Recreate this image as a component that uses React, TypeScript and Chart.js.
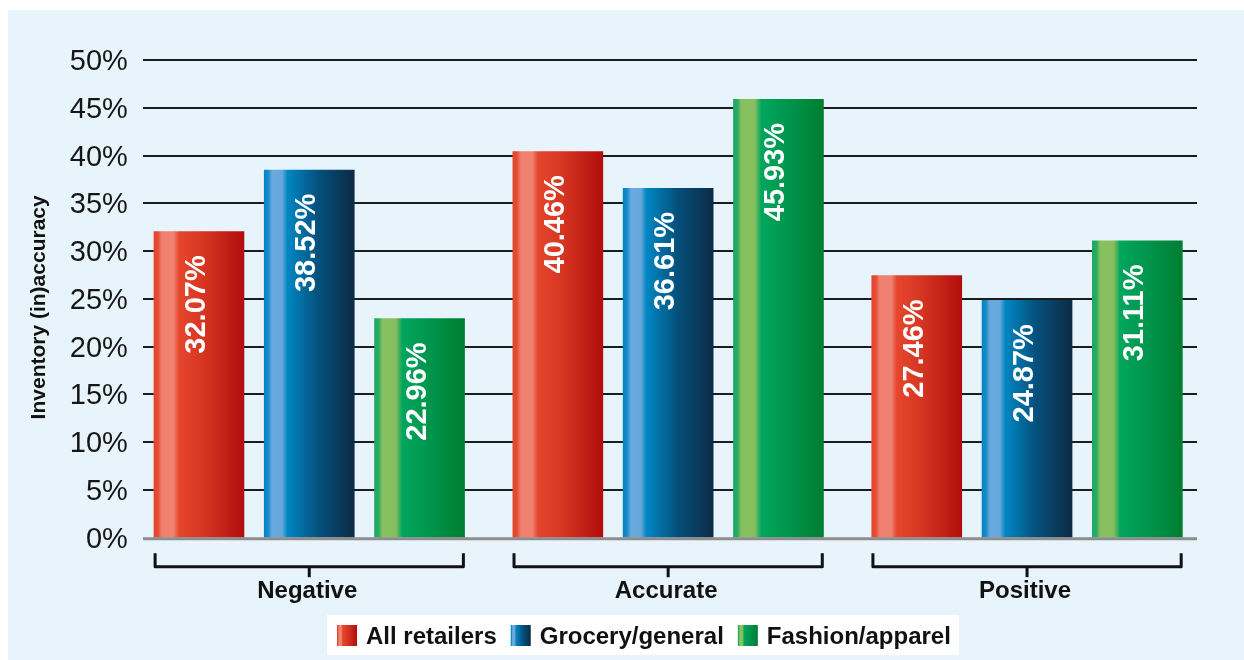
import React, { useEffect, useRef } from 'react';
import { Chart, registerables } from 'chart.js';

Chart.register(...registerables);

// ---- Data ----
const categories = ['Negative', 'Accurate', 'Positive'];
const seriesNames = ['All retailers', 'Grocery/general', 'Fashion/apparel'];
const allRetailers = [32.07, 40.46, 27.46];
const groceryGeneral = [38.52, 36.61, 24.87];
const fashionApparel = [22.96, 45.93, 31.11];
const yTicks = [0, 5, 10, 15, 20, 25, 30, 35, 40, 45, 50];
const yAxisTitle = 'Inventory (in)accuracy';

const seriesData = [allRetailers, groceryGeneral, fashionApparel];

// ---- Styles ----
const FONT = '"Liberation Sans", Arial, Helvetica, sans-serif';
const CAT_PCT = 0.922;
const BAR_PCT = 0.822;

type Stop = [number, string];
const gradientStops: Stop[][] = [
  [[0, '#e4452d'], [0.05, '#e64b34'], [0.09, '#f0806f'], [0.22, '#ef8272'], [0.28, '#e6462c'], [0.55, '#d63522'], [1, '#b20d0c']],
  [[0, '#0083c3'], [0.05, '#1a8ccb'], [0.09, '#6aaade'], [0.2, '#66a8dc'], [0.26, '#0087c3'], [0.6, '#05507c'], [1, '#0c2b45']],
  [[0, '#1ba766'], [0.05, '#2aac62'], [0.09, '#88c060'], [0.24, '#88bf5e'], [0.31, '#00a65e'], [0.6, '#00954c'], [1, '#007e32']],
];
const solidColors = ['#d63522', '#05507c', '#00954c'];

function makeGradient(ctx: CanvasRenderingContext2D, x0: number, x1: number, stops: Stop[]) {
  const g = ctx.createLinearGradient(x0, 0, x1, 0);
  stops.forEach(([o, c]) => g.addColorStop(o, c));
  return g;
}

function barFill(c: any, i: number) {
  const chart = c.chart;
  const xs = chart.scales && chart.scales.x;
  if (c.type !== 'data' || !xs || !chart.chartArea) return solidColors[i];
  const catW = (xs.right - xs.left) / categories.length;
  const slot = (catW * CAT_PCT) / seriesNames.length;
  const w = slot * BAR_PCT;
  const cx = xs.getPixelForValue(c.dataIndex) + (c.datasetIndex - 1) * slot;
  return makeGradient(chart.ctx, cx - w / 2, cx + w / 2, gradientStops[i]);
}

const decorPlugin = {
  id: 'decor',
  beforeDatasetsDraw(chart: any) {
    const { ctx, chartArea } = chart;
    const y = chart.scales.y;
    const gx0 = chartArea.left + 13.2;
    const gx1 = chartArea.right - 9.5;
    ctx.save();
    ctx.strokeStyle = '#1c1c1c';
    ctx.lineWidth = 2;
    yTicks.forEach((v) => {
      if (v === 0) return;
      const py = Math.round(y.getPixelForValue(v));
      ctx.beginPath();
      ctx.moveTo(gx0, py);
      ctx.lineTo(gx1, py);
      ctx.stroke();
    });
    ctx.restore();
  },
  afterDatasetsDraw(chart: any) {
    const { ctx, chartArea } = chart;
    const y = chart.scales.y;
    const x = chart.scales.x;
    const gx0 = chartArea.left + 13.2;
    const gx1 = chartArea.right - 9.5;
    const y0 = y.getPixelForValue(0);
    ctx.save();

    // zero axis line
    ctx.strokeStyle = '#8d8d8d';
    ctx.lineWidth = 3;
    ctx.beginPath();
    ctx.moveTo(gx0, y0 + 1);
    ctx.lineTo(gx1, y0 + 1);
    ctx.stroke();

    // value labels
    ctx.fillStyle = '#ffffff';
    ctx.font = `bold 29px ${FONT}`;
    ctx.textAlign = 'right';
    ctx.textBaseline = 'alphabetic';
    seriesData.forEach((arr, di) => {
      const meta = chart.getDatasetMeta(di);
      meta.data.forEach((el: any, idx: number) => {
        ctx.save();
        ctx.translate(el.x + 6, el.y + 24);
        ctx.rotate(-Math.PI / 2);
        ctx.fillText(arr[idx].toFixed(2) + '%', 0, 0);
        ctx.restore();
      });
    });

    // brackets + category labels
    const first = chart.getDatasetMeta(0);
    const last = chart.getDatasetMeta(seriesNames.length - 1);
    ctx.strokeStyle = '#111111';
    ctx.lineWidth = 3;
    ctx.lineJoin = 'round';
    ctx.fillStyle = '#111111';
    ctx.font = `bold 24px ${FONT}`;
    ctx.textAlign = 'center';
    categories.forEach((cat, i) => {
      const a: any = first.data[i];
      const b: any = last.data[i];
      const left = a.x - a.width / 2 + 1.5;
      const right = b.x + b.width / 2 - 1.5;
      const cx = x.getPixelForValue(i);
      const top = y0 + 15.5;
      const mid = y0 + 29;
      ctx.beginPath();
      ctx.moveTo(left, top);
      ctx.lineTo(left, mid);
      ctx.lineTo(right, mid);
      ctx.lineTo(right, top);
      ctx.stroke();
      ctx.beginPath();
      ctx.moveTo(cx, mid);
      ctx.lineTo(cx, y0 + 39.5);
      ctx.stroke();
      ctx.fillText(cat, cx - 2, y0 + 60.5);
    });

    // y axis title
    ctx.save();
    ctx.font = `bold 21px ${FONT}`;
    ctx.fillStyle = '#111111';
    ctx.textAlign = 'center';
    ctx.textBaseline = 'alphabetic';
    ctx.translate(45, (chartArea.top + chartArea.bottom) / 2 + 8.5);
    ctx.rotate(-Math.PI / 2);
    ctx.fillText(yAxisTitle, 0, 0);
    ctx.restore();

    // legend
    ctx.font = `bold 24px ${FONT}`;
    ctx.textAlign = 'left';
    ctx.textBaseline = 'alphabetic';
    const widths = seriesNames.map((n) => ctx.measureText(n).width);
    const sw = 20, gapST = 9, gapItem = 14, padL = 10, padR = 8;
    const total = padL + widths.reduce((s, w) => s + sw + gapST + w, 0) + gapItem * (seriesNames.length - 1) + padR;
    const lx0 = 327;
    const ly0 = 615;
    const lh = 40;
    ctx.fillStyle = '#ffffff';
    ctx.fillRect(lx0, ly0, total, lh);
    let cur = lx0 + padL;
    seriesNames.forEach((n, i) => {
      ctx.fillStyle = makeGradient(ctx, cur, cur + sw, gradientStops[i]);
      ctx.fillRect(cur, ly0 + 10, sw, 21);
      cur += sw + gapST;
      ctx.fillStyle = '#111111';
      ctx.fillText(n, cur, ly0 + 28.5);
      cur += widths[i] + gapItem;
    });

    ctx.restore();
  },
};

export default function App() {
  const ref = useRef<HTMLCanvasElement>(null);
  useEffect(() => {
    document.body.style.margin = '0';
    const canvas = ref.current!;
    const chart = new Chart(canvas, {
      type: 'bar',
      data: {
        labels: categories,
        datasets: seriesData.map((d, i) => ({
          label: seriesNames[i],
          data: d,
          backgroundColor: (c: any) => barFill(c, i),
          borderWidth: 0,
          categoryPercentage: CAT_PCT,
          barPercentage: BAR_PCT,
        })),
      },
      options: {
        responsive: false,
        animation: false,
        devicePixelRatio: 1,
        layout: { padding: { left: 0, right: 37.5, top: 60, bottom: 122.3 } },
        plugins: { legend: { display: false }, tooltip: { enabled: false } },
        scales: {
          x: { display: false, grid: { display: false } },
          y: {
            min: 0,
            max: 50,
            afterFit: (s: any) => {
              s.width = 129.8;
            },
            afterBuildTicks: (s: any) => {
              s.ticks = yTicks.map((v) => ({ value: v }));
            },
            grid: { display: false, drawTicks: false },
            border: { display: false },
            ticks: {
              padding: 2,
              labelOffset: 2,
              callback: (v: any) => v + '%',
              font: { family: FONT, size: 29 },
              color: '#161616',
            },
          },
        },
      } as any,
      plugins: [decorPlugin as any],
    });
    return () => chart.destroy();
  }, []);
  return (
    <div style={{ position: 'relative', width: 1244, height: 660, background: '#ffffff', overflow: 'hidden' }}>
      <div style={{ position: 'absolute', left: 8, top: 10, right: 0, bottom: 0, background: '#e8f4fc' }} />
      <canvas ref={ref} width={1244} height={660} style={{ position: 'absolute', left: 0, top: 0 }} />
    </div>
  );
}
